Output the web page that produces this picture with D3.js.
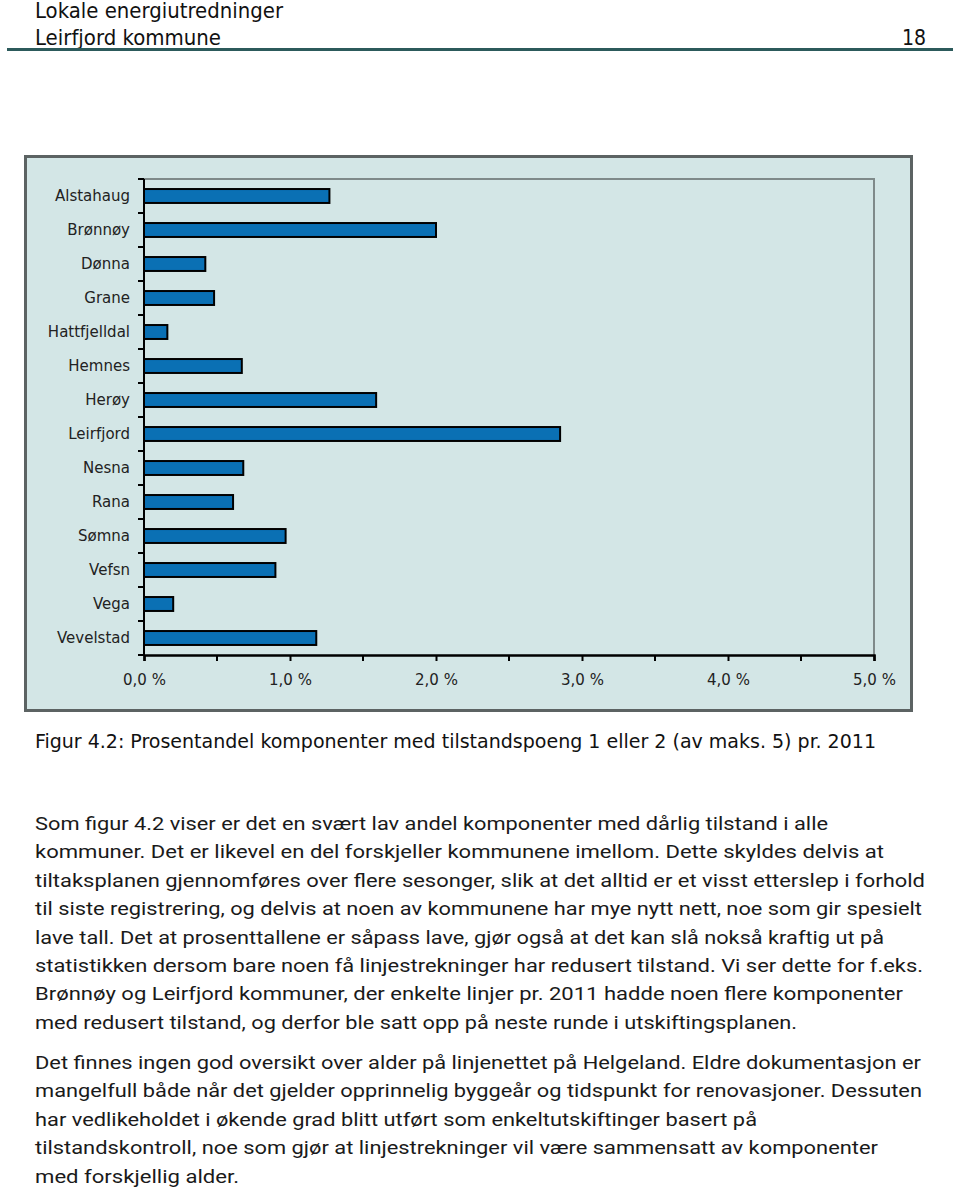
<!DOCTYPE html>
<html><head><meta charset="utf-8">
<script src="https://cdn.jsdelivr.net/npm/d3@7/dist/d3.min.js"></script>
<style>
html,body{margin:0;padding:0;background:#fff;}
svg{display:block;}
</style></head>
<body>
<svg id="c" width="960" height="1189"></svg>
<script>
const categories = ["Alstahaug","Brønnøy","Dønna","Grane","Hattfjelldal","Hemnes","Herøy","Leirfjord","Nesna","Rana","Sømna","Vefsn","Vega","Vevelstad"];
const values = [1.27, 2.00, 0.42, 0.48, 0.16, 0.67, 1.59, 2.85, 0.68, 0.61, 0.97, 0.90, 0.20, 1.18];
const xTicks = [0,1,2,3,4,5];
const xMinorTicks = [0.5,1.5,2.5,3.5,4.5];
const headerLines = ["Lokale energiutredninger","Leirfjord kommune"];
const pageNumber = "18";
const caption = "Figur 4.2: Prosentandel komponenter med tilstandspoeng 1 eller 2 (av maks. 5) pr. 2011";
const para1 = [
 "Som figur 4.2 viser er det en svært lav andel komponenter med dårlig tilstand i alle",
 "kommuner. Det er likevel en del forskjeller kommunene imellom. Dette skyldes delvis at",
 "tiltaksplanen gjennomføres over flere sesonger, slik at det alltid er et visst etterslep i forhold",
 "til siste registrering, og delvis at noen av kommunene har mye nytt nett, noe som gir spesielt",
 "lave tall. Det at prosenttallene er såpass lave, gjør også at det kan slå nokså kraftig ut på",
 "statistikken dersom bare noen få linjestrekninger har redusert tilstand. Vi ser dette for f.eks.",
 "Brønnøy og Leirfjord kommuner, der enkelte linjer pr. 2011 hadde noen flere komponenter",
 "med redusert tilstand, og derfor ble satt opp på neste runde i utskiftingsplanen."
];
const para2 = [
 "Det finnes ingen god oversikt over alder på linjenettet på Helgeland. Eldre dokumentasjon er",
 "mangelfull både når det gjelder opprinnelig byggeår og tidspunkt for renovasjoner. Dessuten",
 "har vedlikeholdet i økende grad blitt utført som enkeltutskiftinger basert på",
 "tilstandskontroll, noe som gjør at linjestrekninger vil være sammensatt av komponenter",
 "med forskjellig alder."
];
const para1W = [793,849,890,887,849,888,868,762];
const para2W = [886,887,722,843,204];
const headerW = [248,186];

const svg = d3.select("#c");
const bodyFont = "Roboto, 'DejaVu Sans', sans-serif";
const hdrFont = "'DejaVu Sans Condensed', Roboto, sans-serif";
const lblFont = "'DejaVu Sans', Verdana, sans-serif";

// Header
svg.append("text").attr("x",35).attr("y",18).attr("font-family",hdrFont).attr("font-size",21).attr("fill","#111")
  .attr("textLength",headerW[0]).attr("lengthAdjust","spacingAndGlyphs").text(headerLines[0]);
svg.append("text").attr("x",35).attr("y",45).attr("font-family",hdrFont).attr("font-size",21).attr("fill","#111")
  .attr("textLength",headerW[1]).attr("lengthAdjust","spacingAndGlyphs").text(headerLines[1]);
svg.append("text").attr("x",926).attr("y",45).attr("text-anchor","end").attr("font-family",hdrFont).attr("font-size",21).attr("fill","#111").text(pageNumber);
svg.append("line").attr("x1",7).attr("x2",953).attr("y1",49.5).attr("y2",49.5).attr("stroke","#2c5a5b").attr("stroke-width",3);

// Chart frame
svg.append("rect").attr("x",25.5).attr("y",156.5).attr("width",886).attr("height",554)
  .attr("fill","#d3e6e6").attr("stroke","#5c6363").attr("stroke-width",3);

const x = d3.scaleLinear().domain([0,5]).range([144,874]);
const y = d3.scaleBand().domain(categories).range([179,655]).padding(0);
const barH = y.bandwidth()*0.41;

const g = svg.append("g");
g.append("path").attr("d",`M${x(0)},${y.range()[0]}H${x(5)}V${y.range()[1]}`).attr("fill","none").attr("stroke","#7f8a8a").attr("stroke-width",2);

// bars
g.selectAll("rect.bar").data(categories).join("rect").attr("class","bar")
  .attr("x",x(0)).attr("y",d=>y(d)+y.bandwidth()/2-barH/2)
  .attr("width",(d,i)=>x(values[i])-x(0)).attr("height",barH)
  .attr("fill","#0a70b4").attr("stroke","#000").attr("stroke-width",2);

// y axis
const yAxisG = g.append("g").attr("transform",`translate(${x(0)},0)`);
yAxisG.append("line").attr("y1",179).attr("y2",656).attr("stroke","#000").attr("stroke-width",2);
const yb = [...categories.map(c=>y(c)), y.range()[1]];
yAxisG.selectAll("line.t").data(yb).join("line").attr("class","t").attr("x1",-6).attr("x2",0).attr("y1",d=>d).attr("y2",d=>d).attr("stroke","#000").attr("stroke-width",2);
yAxisG.selectAll("text").data(categories).join("text")
  .attr("x",-14).attr("y",d=>y(d)+y.bandwidth()/2).attr("dy","0.36em").attr("text-anchor","end")
  .attr("font-family",lblFont).attr("font-size",15).attr("fill","#222").text(d=>d);

// x axis
const xAxis = d3.axisBottom(x).tickValues(xTicks).tickSize(6).tickFormat(d=>d3.format(".1f")(d).replace(".",",")+" %");
const xg = g.append("g").attr("transform","translate(0,655)").call(xAxis);
xg.select(".domain").attr("stroke","#000").attr("stroke-width",2.5);
xg.selectAll(".tick line").attr("stroke","#000").attr("stroke-width",2);
xg.selectAll(".tick text").attr("font-family",lblFont).attr("font-size",15).attr("fill","#222").attr("dy","1.4em");
xg.selectAll("line.minor").data(xMinorTicks).join("line").attr("class","minor")
  .attr("x1",d=>x(d)).attr("x2",d=>x(d)).attr("y1",0).attr("y2",6).attr("stroke","#000").attr("stroke-width",2);

// caption
svg.append("text").attr("x",35).attr("y",748).attr("font-family",hdrFont).attr("font-size",20).attr("fill","#111").attr("textLength",841).attr("lengthAdjust","spacingAndGlyphs").text(caption);

// body
function para(lines, widths, y0){
  lines.forEach((l,i)=>{
    svg.append("text").attr("x",35).attr("y",y0+i*28.4).attr("font-family",bodyFont).attr("font-size",19).attr("fill","#1a1a1a")
      .attr("textLength",widths[i]).attr("lengthAdjust","spacingAndGlyphs").text(l);
  });
}
para(para1, para1W, 830);
para(para2, para2W, 1069);
</script>
</body></html>
